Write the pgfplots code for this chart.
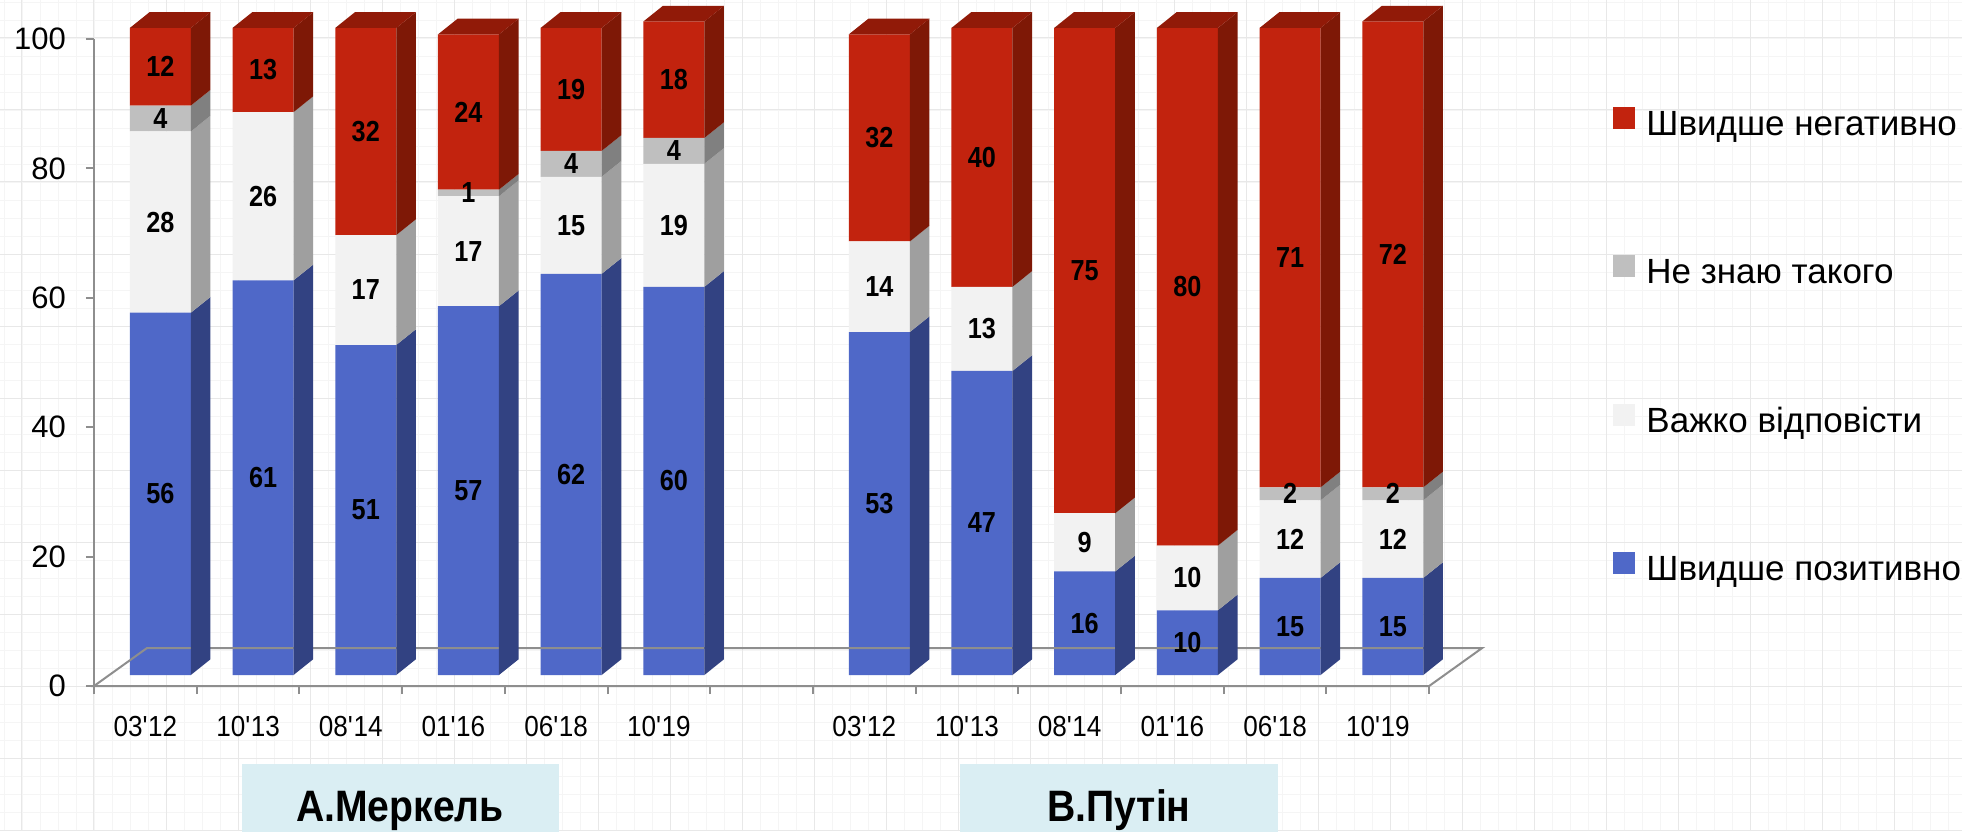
\documentclass[border=0pt]{standalone}
\usepackage{fontspec}
\setmainfont{Liberation Sans}
\newfontfamily\tickfont[FakeStretch=0.9]{Liberation Sans}
\newfontfamily\lblfont[FakeStretch=0.87]{Liberation Sans}
\newfontfamily\grpfont[FakeStretch=0.89]{Liberation Sans}
\usepackage{pgfplots}
\usepackage{pgfplotstable}
\pgfplotsset{compat=1.18}

\definecolor{bluefront}{HTML}{4F68C8}
\definecolor{blueside}{HTML}{324282}
\definecolor{whitefront}{HTML}{F2F2F2}
\definecolor{whiteside}{HTML}{9F9F9F}
\definecolor{grayfront}{HTML}{BFBFBF}
\definecolor{grayside}{HTML}{808080}
\definecolor{redfront}{HTML}{C2230E}
\definecolor{redside}{HTML}{7E1806}
\definecolor{redtop}{HTML}{911A08}
\definecolor{axisgray}{HTML}{8E8E8E}
\definecolor{boxblue}{HTML}{DAEEF3}

% x: category index (6 = empty gap); pos / hard / dk / neg = shares in %
\pgfplotstableread{
x  pos hard dk neg
0  56  28   4  12
1  61  26   0  13
2  51  17   0  32
3  57  17   1  24
4  62  15   4  19
5  60  19   4  18
7  53  14   0  32
8  47  13   0  40
9  16   9   0  75
10 10  10   0  80
11 15  12   2  71
12 15  12   2  72
}\data

\def\bshift{0.146}\def\bhalf{0.297}\def\ddx{0.191}\def\ddy{2.43}\def\base{1.7}

\newcommand\getrow[1]{%
  \pgfplotstablegetelem{#1}{x}\of\data\let\cx\pgfplotsretval
  \pgfplotstablegetelem{#1}{pos}\of\data\let\va\pgfplotsretval
  \pgfplotstablegetelem{#1}{hard}\of\data\let\vb\pgfplotsretval
  \pgfplotstablegetelem{#1}{dk}\of\data\let\vc\pgfplotsretval
  \pgfplotstablegetelem{#1}{neg}\of\data\let\vd\pgfplotsretval
  \pgfmathsetmacro\xl{\cx+\bshift-\bhalf}%
  \pgfmathsetmacro\xr{\cx+\bshift+\bhalf}%
  \pgfmathsetmacro\xld{\xl+\ddx}%
  \pgfmathsetmacro\xd{\xr+\ddx}%
  \pgfmathsetmacro\ya{\base}%
  \pgfmathsetmacro\yb{\ya+\va}%
  \pgfmathsetmacro\yc{\yb+\vb}%
  \pgfmathsetmacro\yd{\yc+\vc}%
  \pgfmathsetmacro\ye{\yd+\vd}%
}
\newcommand\sideface[3]{%
  \pgfmathsetmacro\ylo{#2+\ddy}\pgfmathsetmacro\yhi{#3+\ddy}%
  \edef\tmp{\noexpand\addplot[fill=#1,draw=none,forget plot] coordinates {(\xr,#2) (\xd,\ylo) (\xd,\yhi) (\xr,#3)} --cycle;}%
  \tmp}
\newcommand\topface{%
  \pgfmathsetmacro\yet{\ye+\ddy}%
  \edef\tmp{\noexpand\addplot[fill=redtop,draw=none,forget plot] coordinates {(\xl,\ye) (\xld,\yet) (\xd,\yet) (\xr,\ye)} --cycle;}%
  \tmp}

\pgfplotsset{common/.style={width=693.25pt, height=339.7pt, scale only axis,
  xmin=-0.5, xmax=13.0, ymin=0, ymax=105, clip=false,
  at={(0pt,0pt)}, anchor=south west}}

\begin{document}
\begin{tikzpicture}
\useasboundingbox (-47pt,-72.5pt) rectangle (934pt,343pt);
\fill[white] (-47pt,-72.5pt) rectangle (934pt,343pt);
\draw[black!4, line width=0.3pt, step=9pt] (-47pt,-72.5pt) grid (934pt,343pt);
\draw[black!9, line width=0.5pt, step=36pt] (-47pt,-72.5pt) grid (934pt,343pt);

% front faces of the bars
\begin{axis}[common, hide axis, ybar stacked, bar width=0.594,
  reverse legend,
  legend style={at={(1.0956,0.4976)}, anchor=west, draw=none, fill=none,
    inner sep=0pt, row sep=56pt, column sep=5.5pt,
    font=\fontsize{17.5}{21}\selectfont,
    nodes={inner sep=0pt, text height=12.5pt, text depth=4pt}},
  legend cell align=left,
  legend image code/.code={\fill[#1] (0pt,-1pt) rectangle (11pt,10pt);},
]
\draw[axisgray, line width=1pt] (axis cs:-0.5,0) -- (axis cs:12.5,0) -- (axis cs:13.016,5.87) -- (axis cs:0.016,5.87) -- cycle;
\addplot[draw=none, fill=none, forget plot] table[x expr=\thisrow{x}+0.146, y expr=1.7] {\data};
\addplot[fill=bluefront, draw=none] table[x expr=\thisrow{x}+0.146, y=pos] {\data};
\addplot[fill=whitefront, draw=none] table[x expr=\thisrow{x}+0.146, y=hard] {\data};
\addplot[fill=grayfront, draw=none] table[x expr=\thisrow{x}+0.146, y=dk] {\data};
\addplot[fill=redfront, draw=none] table[x expr=\thisrow{x}+0.146, y=neg] {\data};
\legend{Швидше позитивно, Важко відповісти, Не знаю такого, Швидше негативно}
\end{axis}

% axes, 3D faces, labels
\begin{axis}[common,
  axis lines*=left, axis line style={draw=none},
  tick align=outside, major tick length=4pt,
  tick style={axisgray, line width=1pt},
  ytick={0,20,40,60,80,100},
  /pgf/number format/assume math mode=true,
  yticklabel style={font=\fontsize{15.5}{18}\selectfont, xshift=-6.5pt},
  xtick={-0.5,0.5,1.5,2.5,3.5,4.5,5.5,6.5,7.5,8.5,9.5,10.5,11.5,12.5},
  x tick label as interval,
  xticklabels={03\textquotesingle12,10\textquotesingle13,08\textquotesingle14,01\textquotesingle16,06\textquotesingle18,10\textquotesingle19,{},03\textquotesingle12,10\textquotesingle13,08\textquotesingle14,01\textquotesingle16,06\textquotesingle18,10\textquotesingle19},
  xticklabel style={font=\tickfont\fontsize{14.5}{17}\selectfont, yshift=-7.5pt},
  nodes near coords style={font=\lblfont\bfseries\fontsize{14.5}{17}\selectfont, anchor=center},
]
\draw[axisgray, line width=1pt] (axis cs:-0.5,0) -- (axis cs:-0.5,100);
\pgfplotsinvokeforeach{0,...,11}{%
  \getrow{#1}%
  \sideface{blueside}{\ya}{\yb}%
  \sideface{whiteside}{\yb}{\yc}%
  \sideface{grayside}{\yc}{\yd}%
  \sideface{redside}{\yd}{\ye}%
  \topface
}
\addplot[draw=none, forget plot, nodes near coords, point meta=explicit symbolic]
  table[x expr=\thisrow{x}+0.146, y expr=1.7+\thisrow{pos}/2, meta=pos] {\data};
\addplot[draw=none, forget plot, nodes near coords, point meta=explicit symbolic]
  table[x expr=\thisrow{x}+0.146, y expr=1.7+\thisrow{pos}+\thisrow{hard}/2, meta=hard] {\data};
\addplot[draw=none, forget plot, nodes near coords, point meta=explicit symbolic,
  restrict expr to domain={\thisrow{dk}}{0.5:1000}]
  table[x expr=\thisrow{x}+0.146, y expr=1.7+\thisrow{pos}+\thisrow{hard}+\thisrow{dk}/2, meta=dk] {\data};
\addplot[draw=none, forget plot, nodes near coords, point meta=explicit symbolic]
  table[x expr=\thisrow{x}+0.146, y expr=1.7+\thisrow{pos}+\thisrow{hard}+\thisrow{dk}+\thisrow{neg}/2, meta=neg] {\data};
\fill[boxblue] (axis cs:0.941,-12.06) rectangle (axis cs:4.028,-22.6);
\fill[boxblue] (axis cs:7.932,-12.06) rectangle (axis cs:11.028,-22.6);
\node[anchor=base, font=\grpfont\bfseries\fontsize{22}{26}\selectfont] at (axis cs:2.48,-20.9) {А.Меркель};
\node[anchor=base, font=\grpfont\bfseries\fontsize{22}{26}\selectfont] at (axis cs:9.48,-20.9) {В.Путін};
\end{axis}
\end{tikzpicture}
\end{document}
